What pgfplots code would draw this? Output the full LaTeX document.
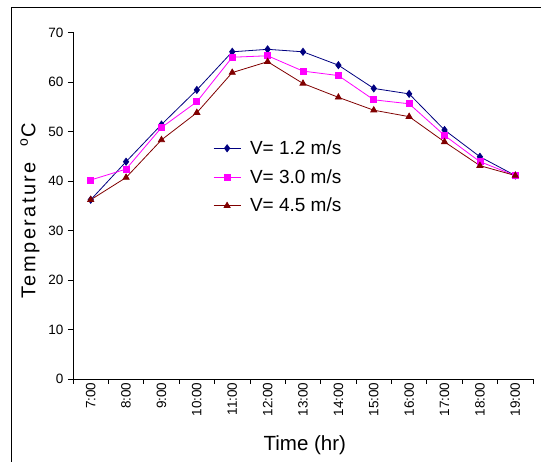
\documentclass[border=0pt]{standalone}
\usepackage{pgfplots}
\pgfplotsset{compat=1.18}
\usepackage{fontspec}
\setmainfont{Liberation Sans}
\definecolor{sblue}{RGB}{0,0,128}
\definecolor{smag}{RGB}{255,0,255}
\definecolor{sred}{RGB}{128,0,0}
\begin{document}
\begin{tikzpicture}
\useasboundingbox (0,0) rectangle (541pt,462pt);
\draw[line width=1pt] (11pt,0pt) -- (11pt,454pt) -- (541pt,454pt);
\begin{axis}[
  at={(73pt,83pt)}, anchor=south west,
  scale only axis, width=460pt, height=346.5pt,
  xmin=-0.5, xmax=12.5, ymin=0, ymax=70,
  ytick={0,10,...,70},
  xtick={-0.5,0.5,...,12.5}, xticklabels={},
  extra x ticks={0,1,...,12},
  extra x tick labels={7:00,8:00,9:00,10:00,11:00,12:00,13:00,14:00,15:00,16:00,17:00,18:00,19:00},
  extra x tick style={major tick length=0pt, tick label style={rotate=90, anchor=east, yshift=0pt}},
  axis x line*=bottom, axis y line*=left,
  axis line style={-, black, line width=0.8pt},
  tick align=outside, major tick length=5pt,
  tick style={black, line width=0.8pt},
  /pgf/number format/assume math mode=true,
  tick label style={font=\fontsize{13.5}{15}\selectfont},
  yticklabel style={xshift=-1pt},
  every axis x label/.style={at={(axis description cs:0.504,-0.19)}, anchor=center},
  every axis y label/.style={at={(axis description cs:-0.0935,0.485)}, rotate=90, anchor=center},
  xlabel style={font=\fontsize{20.5}{24}\selectfont},
  ylabel style={font=\fontsize{20}{24}\selectfont\addfontfeatures{LetterSpace=12}},
  xlabel={Time (hr)},
  ylabel={Temperature\ \ \textsuperscript{o}C},
  legend style={at={(axis description cs:0.30,0.70)}, anchor=north west, draw=none, fill=none,
    font=\fontsize{19}{21}\selectfont, row sep=9.5pt, inner sep=2pt,
    /tikz/every odd column/.append style={column sep=7pt}},
  legend cell align=left,
  legend image code/.code={\draw[mark repeat=2,mark phase=2] plot coordinates {(0pt,0pt) (13.5pt,0pt) (27pt,0pt)};},
]
\addplot[sblue, line width=0.8pt, mark=diamond*, mark size=3.5pt, mark options={fill=sblue, draw=sblue}] coordinates {
(0,36.2) (1,43.9) (2,51.4) (3,58.4) (4,66.1) (5,66.6) (6,66.1) (7,63.4) (8,58.7) (9,57.6) (10,50.3) (11,44.9) (12,41.1)};
\addlegendentry{V= 1.2 m/s}
\addplot[smag, line width=0.8pt, mark=square*, mark size=3pt, mark options={fill=smag, draw=smag}] coordinates {
(0,40.2) (1,42.4) (2,50.8) (3,56.0) (4,65.0) (5,65.3) (6,62.2) (7,61.3) (8,56.4) (9,55.6) (10,49.2) (11,43.9) (12,41.1)};
\addlegendentry{V= 3.0 m/s}
\addplot[sred, line width=0.8pt, mark=triangle*, mark size=3.5pt, mark options={fill=sred, draw=sred}] coordinates {
(0,36.2) (1,40.7) (2,48.3) (3,53.8) (4,61.9) (5,64.1) (6,59.7) (7,56.9) (8,54.3) (9,53.0) (10,47.9) (11,43.1) (12,41.1)};
\addlegendentry{V= 4.5 m/s}
\end{axis}
\end{tikzpicture}
\end{document}
